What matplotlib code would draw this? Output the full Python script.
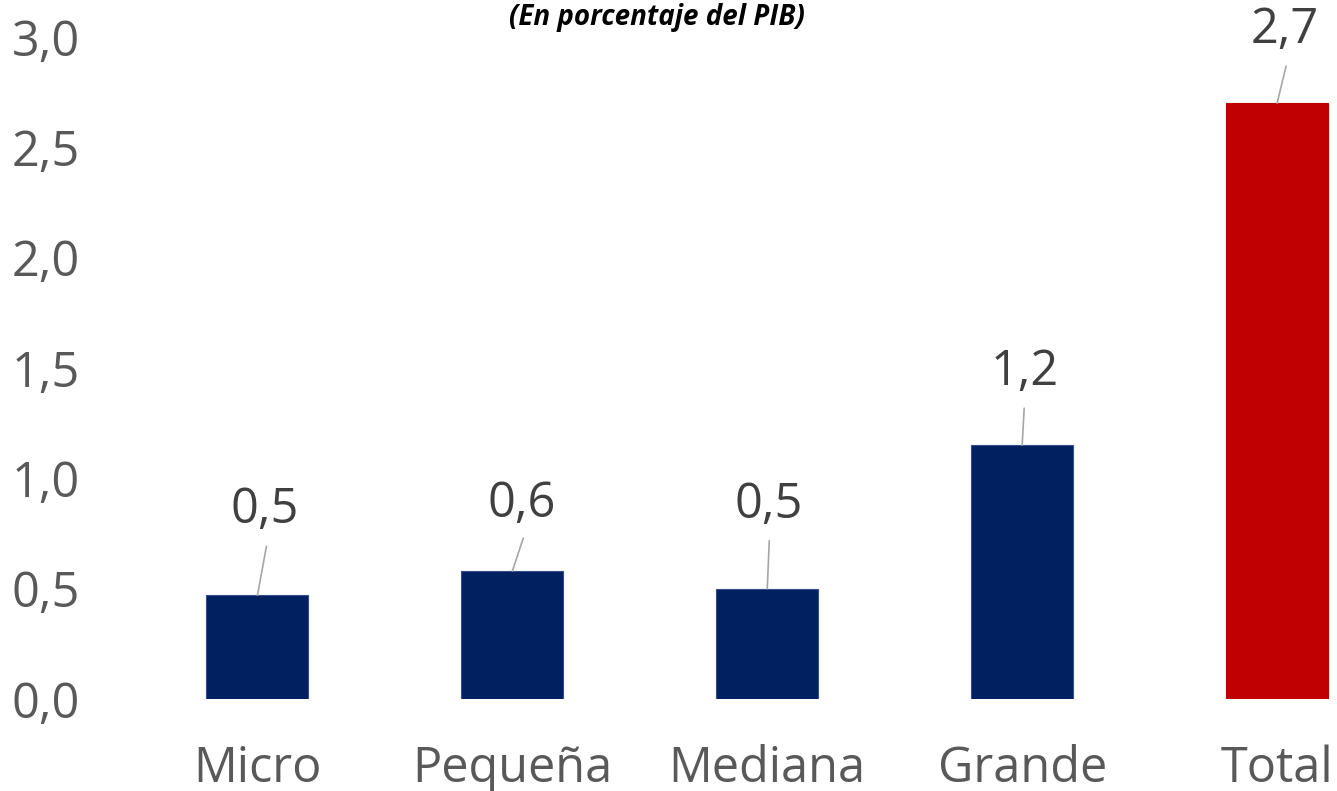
import matplotlib
matplotlib.use("Agg")
import matplotlib.pyplot as plt

categories = ["Micro", "Pequeña", "Mediana", "Grande", "Total"]
values = [0.47, 0.58, 0.50, 1.15, 2.70]
labels = ["0,5", "0,6", "0,5", "1,2", "2,7"]
yticks = [0.0, 0.5, 1.0, 1.5, 2.0, 2.5, 3.0]
ytick_labels = ["0,0", "0,5", "1,0", "1,5", "2,0", "2,5", "3,0"]
colors = ["#002060", "#002060", "#002060", "#002060", "#C00000"]
edge_colors = ["#2F4F8F", "#2F4F8F", "#2F4F8F", "#2F4F8F", "#C00000"]
# label offsets in pixels: (label dx, label dy, line-end dx, line-end dy) (dy positive = up)
offsets = [(7, 85, 9, 49), (9, 67, 11, 33), (1, 83, 2, 48), (3, 73, 2, 37), (8, 73, 9, 37)]

FONT = "Open Sans"
plt.rcParams["font.family"] = [FONT, "DejaVu Sans"]

W, H = 1337, 791
fig = plt.figure(figsize=(W / 100, H / 100), dpi=100)
ax = fig.add_axes([130 / W, (H - 699) / H, (1337 - 130) / W, (699 - 37) / H])

x = list(range(len(categories)))
ax.bar(x, values, width=0.4, color=colors, edgecolor=edge_colors, linewidth=0.8)
ax.set_ylim(0, 3.0)
ax.set_xlim(-0.5, 4.235)

ax.set_yticks(yticks)
ax.set_yticklabels(ytick_labels)
ax.set_xticks(x)
ax.set_xticklabels(categories)
ax.tick_params(axis="y", length=0, pad=36, labelsize=35, labelcolor="#595959")
ax.tick_params(axis="x", length=0, pad=33, labelsize=35, labelcolor="#595959")
for s in ax.spines.values():
    s.set_visible(False)

px = 72 / 100  # pixels -> points
for xi, v, lab, (ldx, ldy, edx, edy) in zip(x, values, labels, offsets):
    ax.annotate("", xy=(xi, v), xytext=(edx * px, edy * px), textcoords="offset points",
                arrowprops=dict(arrowstyle="-", color="#A6A6A6", lw=1.2, shrinkA=0, shrinkB=0))
    ax.annotate(lab, xy=(xi, v), xytext=(ldx * px, ldy * px), textcoords="offset points",
                ha="center", va="center", fontsize=35, color="#404040")

fig.text(657 / W, 1 - 17 / H, "(En porcentaje del PIB)", ha="center", va="center",
         fontsize=20, fontweight="bold", fontstyle="italic", color="black")

fig.savefig("out.png", dpi=100)
